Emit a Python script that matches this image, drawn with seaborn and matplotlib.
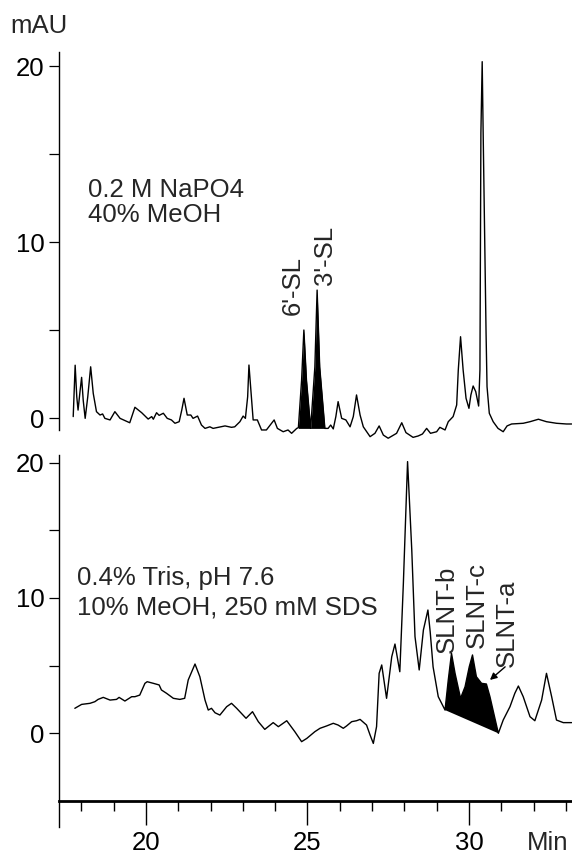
import numpy as np
import seaborn as sns
import matplotlib.pyplot as plt
from matplotlib.ticker import MultipleLocator

# upper trace: 0.2 M NaPO4 / 40% MeOH
top_time = [17.75, 17.81, 17.86, 17.90, 17.96, 18.01, 18.06, 18.12, 18.20, 18.29,
            18.37, 18.47, 18.58, 18.66, 18.73, 18.89, 19.04, 19.20, 19.50, 19.66,
            19.87, 20.07, 20.18, 20.23, 20.33, 20.41, 20.54, 20.66, 20.79, 20.90,
            21.03, 21.11, 21.18, 21.28, 21.39, 21.46, 21.60, 21.72, 21.83, 21.98,
            22.08, 22.45, 22.65, 22.75, 22.91, 23.01, 23.08, 23.15, 23.19, 23.25,
            23.32, 23.45, 23.58, 23.73, 23.97, 24.07, 24.25, 24.40, 24.51, 24.67,
            24.72, 24.82, 24.89, 24.97, 25.10, 25.23, 25.30, 25.38, 25.54, 25.64,
            25.72, 25.80, 25.88, 25.95, 26.06, 26.19, 26.32, 26.42, 26.52, 26.63,
            26.73, 26.94, 27.09, 27.22, 27.35, 27.50, 27.76, 27.92, 28.05, 28.27,
            28.43, 28.56, 28.69, 28.81, 29.00, 29.10, 29.26, 29.36, 29.51, 29.62,
            29.67, 29.74, 29.82, 29.91, 30.00, 30.06, 30.13, 30.21, 30.30, 30.34,
            30.37, 30.41, 30.44, 30.53, 30.56, 30.63, 30.75, 30.90, 31.06, 31.18,
            31.32, 31.68, 31.89, 32.15, 32.40, 32.71, 33.02, 33.18]
top_mau = [0.08, 3.0, 1.2, 0.45, 1.5, 2.31, 1.0, -0.02, 1.2, 2.91,
           1.4, 0.36, 0.17, 0.23, -0.02, -0.11, 0.36, -0.02, -0.27, 0.61,
           0.3, -0.06, 0.08, -0.07, 0.3, 0.15, 0.27, -0.02, -0.11, -0.3,
           -0.21, 0.45, 1.12, 0.17, 0.17, -0.02, 0.11, -0.4, -0.59, -0.5,
           -0.59, -0.45, -0.53, -0.5, -0.21, 0.11, -0.02, 1.21, 3.01, 1.59,
           -0.11, -0.11, -0.68, -0.68, -0.11, -0.59, -0.78, -0.68, -0.87, -0.59,
           -0.55, 2.16, 5.0, 2.16, -0.59, 2.9, 7.27, 2.9, -0.59, -0.59,
           -0.4, -0.62, 0.08, 0.93, -0.02, -0.11, -0.5, 0.08, 1.31, 0.17,
           -0.5, -1.06, -0.87, -0.45, -0.97, -1.15, -0.87, -0.27, -0.83, -1.1,
           -1.02, -0.91, -0.59, -0.87, -0.78, -0.53, -0.68, -0.21, 0.08, 0.74,
           2.73, 4.62, 2.73, 1.12, 0.55, 1.31, 1.82, 1.5, 0.68, 2.73,
           16.2, 20.25, 16.2, 4.8, 1.78, 0.27, -0.21, -0.59, -0.78, -0.45,
           -0.34, -0.3, -0.21, -0.07, -0.21, -0.3, -0.34, -0.34]

# lower trace: 0.4% Tris pH 7.6 / 10% MeOH, 250 mM SDS
bottom_time = [17.80, 18.01, 18.27, 18.42, 18.52, 18.68, 18.89, 19.09, 19.17, 19.35,
               19.56, 19.66, 19.81, 19.97, 20.04, 20.23, 20.41, 20.48, 20.64, 20.85,
               21.05, 21.20, 21.31, 21.52, 21.67, 21.83, 21.93, 22.03, 22.14, 22.29,
               22.50, 22.65, 22.81, 23.10, 23.30, 23.48, 23.68, 23.94, 24.10, 24.36,
               24.61, 24.82, 24.98, 25.23, 25.39, 25.59, 25.80, 25.95, 26.11, 26.21,
               26.37, 26.52, 26.63, 26.83, 26.94, 27.04, 27.14, 27.22, 27.30, 27.45,
               27.61, 27.71, 27.86, 27.97, 28.10, 28.23, 28.33, 28.46, 28.59, 28.73,
               28.80, 28.89, 29.05, 29.26, 29.36, 29.46, 29.57, 29.74, 29.88, 30.01,
               30.11, 30.23, 30.39, 30.54, 30.65, 30.91, 31.06, 31.27, 31.42, 31.53,
               31.68, 31.89, 32.04, 32.25, 32.40, 32.56, 32.71, 32.92, 33.18]
bottom_mau = [1.83, 2.12, 2.2, 2.32, 2.49, 2.64, 2.44, 2.49, 2.64, 2.37,
              2.69, 2.69, 2.81, 3.68, 3.8, 3.68, 3.56, 3.19, 2.94, 2.57,
              2.49, 2.57, 3.93, 5.11, 4.17, 2.44, 1.7, 1.83, 1.5, 1.33,
              1.95, 2.2, 1.83, 1.09, 1.58, 0.84, 0.27, 0.77, 0.47, 0.91,
              0.1, -0.64, -0.4, 0.1, 0.35, 0.52, 0.72, 0.59, 0.35, 0.52,
              0.84, 0.91, 1.01, 0.59, -0.15, -0.77, 0.47, 4.42, 5.04, 2.57,
              5.65, 6.59, 4.54, 11.09, 20.1, 13.56, 7.14, 4.67, 7.63, 9.11,
              7.5, 4.9, 2.69, 1.7, 3.93, 5.9, 4.42, 2.57, 3.43, 4.91,
              5.78, 4.17, 3.68, 3.63, 2.69, -0.02, 0.96, 1.95, 2.94, 3.48,
              2.69, 1.21, 0.91, 2.44, 4.42, 2.69, 0.96, 0.77, 0.77]

# shaded regions
sl_range = (24.72, 25.54)
sl_base = -0.59
slnt_range = (29.26, 30.91)

sns.set_style("ticks")
plt.rcParams['font.family'] = ['Liberation Sans', 'DejaVu Sans']
plt.rcParams['font.size'] = 18.5
FS = 18.5

W, H = 572, 856
fig = plt.figure(figsize=(W / 100, H / 100), dpi=100)

xlim = (17.31, 33.19)
left = 59 / W

# top axes (pixel rows 52..440)
ax1 = fig.add_axes([left, 1 - 440 / H, 1 - left, 388 / H])
# bottom axes (pixel rows 455..827)
ax2 = fig.add_axes([left, 1 - 827 / H, 1 - left, 372 / H])

top_t = np.array(top_time)
top_y = np.array(top_mau)
sns.lineplot(x=top_t, y=top_y, ax=ax1, color='black', linewidth=1.0,
             estimator=None, sort=False)
m = (top_t >= sl_range[0]) & (top_t <= sl_range[1])
ax1.fill_between(top_t[m], top_y[m], sl_base, color='black', linewidth=0)

bot_t = np.array(bottom_time)
bot_y = np.array(bottom_mau)
sns.lineplot(x=bot_t, y=bot_y, ax=ax2, color='black', linewidth=1.0,
             estimator=None, sort=False)
m2 = (bot_t >= slnt_range[0]) & (bot_t <= slnt_range[1])
seg_t = bot_t[m2]
seg_y = bot_y[m2]
ax2.fill(np.concatenate([seg_t, seg_t[[-1, 0]]]),
         np.concatenate([seg_y, seg_y[[-1, 0]]]),
         color='black', linewidth=0)

# axes styling
for ax in (ax1, ax2):
    ax.set_xlim(*xlim)
    ax.set_facecolor('none')
    ax.spines['top'].set_visible(False)
    ax.spines['right'].set_visible(False)
    ax.spines['left'].set_color('black')
    ax.spines['left'].set_linewidth(1.0)
    ax.set_yticks([0, 5, 10, 15, 20], labels=['0', '', '10', '', '20'])
    ax.tick_params(axis='y', direction='out', length=7, width=0.9,
                   pad=3.5, labelsize=FS, colors='black')
    ax.set_xlabel('')
    ax.set_ylabel('')

ax1.set_ylim(-1.25, 20.8)
ax1.spines['left'].set_bounds(-0.68, 20.8)
ax1.spines['bottom'].set_visible(False)
ax1.set_xticks([])

ax2.set_ylim(-6.96, 20.59)
ax2.spines['bottom'].set_position(('data', -5))
ax2.spines['bottom'].set_linewidth(2.0)
ax2.spines['bottom'].set_color('black')
ax2.set_xticks([20, 25, 30])
ax2.xaxis.set_minor_locator(MultipleLocator(1))
ax2.tick_params(axis='x', which='major', direction='out', length=17,
                width=1.0, pad=3, labelsize=FS, colors='black')
ax2.tick_params(axis='x', which='minor', direction='out', length=7,
                width=1.0, colors='black')

# annotations
fig.text(10 / W, 1 - 26 / H, 'mAU', ha='left', va='center', fontsize=FS)
fig.text(527 / W, 1 - 843 / H, 'Min', ha='left', va='center', fontsize=FS)

ax1.text(18.2, 12.95, '0.2 M NaPO4', ha='left', va='center', fontsize=FS)
ax1.text(18.2, 11.53, '40% MeOH', ha='left', va='center', fontsize=FS)
ax1.text(24.55, 5.85, "6'-SL", rotation=90, ha='center', va='bottom', fontsize=FS)
ax1.text(25.54, 7.56, "3'-SL", rotation=90, ha='center', va='bottom', fontsize=FS)

ax2.text(17.86, 11.48, '0.4% Tris, pH 7.6', ha='left', va='center', fontsize=FS)
ax2.text(17.86, 9.33, '10% MeOH, 250 mM SDS', ha='left', va='center', fontsize=FS)
ax2.text(29.33, 5.93, 'SLNT-b', rotation=90, ha='center', va='bottom', fontsize=FS)
ax2.text(30.25, 6.3, 'SLNT-c', rotation=90, ha='center', va='bottom', fontsize=FS)
ax2.text(31.18, 4.9, 'SLNT-a', rotation=90, ha='center', va='bottom', fontsize=FS)
ax2.annotate('', xy=(30.65, 3.93), xytext=(31.12, 4.9),
             arrowprops=dict(arrowstyle='-|>', color='black', lw=1.0,
                             mutation_scale=10, shrinkA=0, shrinkB=0))

# x tick labels sit level with "Min" (centre ~843 px from the top)
fig.canvas.draw()
renderer = fig.canvas.get_renderer()
lab = [t for t in ax2.get_xticklabels() if t.get_text()][0]
bb = lab.get_window_extent(renderer)
cy = (bb.y0 + bb.y1) / 2
shift_px = cy - (H - 843)
ax2.tick_params(axis='x', which='major', pad=3 + shift_px * 72 / 100)

fig.savefig('out.png', dpi=100, facecolor='white')
